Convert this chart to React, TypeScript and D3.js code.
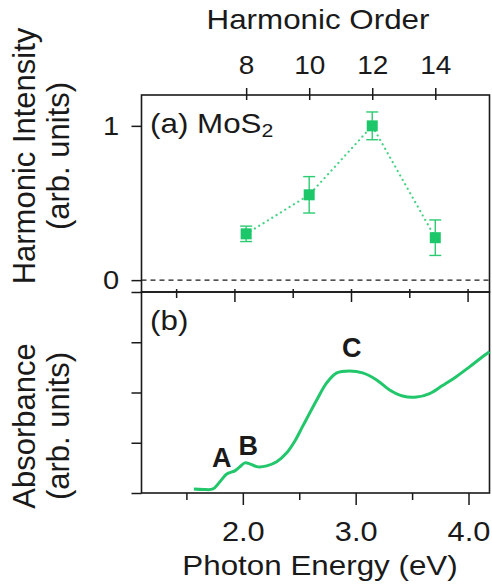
import React, { useEffect, useRef } from "react";
import * as d3 from "d3";

// panel (a): harmonic yield
const harmonicOrders = [8, 10, 12, 14];
const harmonicIntensity = [0.3, 0.553, 1.0, 0.275];
const harmonicError = [0.05, 0.118, 0.09, 0.115];

// panel (b): absorbance spectrum
const photonEnergy = [1.566, 1.65, 1.735, 1.788, 1.858, 1.903, 1.929, 1.973, 2.018, 2.062, 2.133, 2.212, 2.3, 2.389, 2.46, 2.531, 2.655, 2.743, 2.832, 2.947, 3.062, 3.186, 3.301, 3.416, 3.54, 3.655, 3.77, 3.894, 4.009, 4.124, 4.186];
const absorbance = [0.08, 0.07, 0.08, 0.2, 0.38, 0.42, 0.44, 0.52, 0.6, 0.58, 0.52, 0.54, 0.62, 0.8, 1.03, 1.33, 1.85, 2.19, 2.39, 2.43, 2.39, 2.25, 2.05, 1.93, 1.91, 1.98, 2.14, 2.32, 2.51, 2.71, 2.81];

const peakNames = ["A", "B", "C"];
const peakEnergy = [1.814, 2.049, 2.965];
const peakHeight = [0.52, 0.76, 2.71];

const energyMajor = [2.0, 3.0, 4.0];
const energyMinor = [1.5, 2.5, 3.5];
const intensityTicks = [0, 1];
const absorbanceTicks = [0, 1, 2, 3, 4];

const FONT = "'Liberation Sans', Arial, Helvetica, sans-serif";
const GREEN = "#22c66b";
const SX = 1.12; // text in the original looks a bit wide

const Chart = () => {
  const ref = useRef(null);

  useEffect(() => {
    const width = 492;
    const height = 587;
    const left = 141.5;
    const right = 489.5;
    const topA = 95;
    const mid = 292;
    const bottom = 493;

    const svg = d3.select(ref.current).attr("width", width).attr("height", height);
    svg.selectAll("*").remove();

    const xOrder = d3.scaleLinear().domain([4.68, 15.72]).range([left, right]);
    const xEa = d3.scaleLinear().domain([1.203, 4.188]).range([left, right]);
    const xEb = d3.scaleLinear().domain([1.102, 4.186]).range([left, right]);
    const yA = d3.scaleLinear().domain([-0.077, 1.2]).range([mid, topA]);
    const yB = d3.scaleLinear().domain([0, 4]).range([bottom, mid]);

    const ink = "#1a1a1a";

    // top axis: harmonic order
    const topAxis = svg.append("g").attr("transform", `translate(0,${topA})`)
      .call(d3.axisTop(xOrder).tickValues(harmonicOrders).tickSizeInner(7).tickSizeOuter(0).tickPadding(14));
    topAxis.select(".domain").remove();
    topAxis.selectAll(".tick line").attr("y1", 5).attr("stroke", ink).attr("stroke-width", 1.5);
    topAxis.selectAll(".tick text").attr("font-size", 25).attr("font-family", FONT).attr("fill", ink)
      .attr("transform", `scale(${SX},1)`);

    // panel (a) bottom ticks (energy)
    const aBottom = svg.append("g").attr("transform", `translate(0,${mid})`)
      .call(d3.axisBottom(xEa).tickValues(energyMajor.concat(energyMinor)).tickSizeOuter(0).tickFormat(() => ""));
    aBottom.select(".domain").remove();
    aBottom.selectAll(".tick line")
      .attr("y1", -3)
      .attr("y2", (d) => (energyMajor.includes(d) ? 10 : 6))
      .attr("stroke", ink).attr("stroke-width", 1.5);

    // panel (a) left axis
    const aLeft = svg.append("g").attr("transform", `translate(${left},0)`)
      .call(d3.axisLeft(yA).tickValues(intensityTicks).tickSizeInner(10).tickSizeOuter(0).tickPadding(10).tickFormat(d3.format("d")));
    aLeft.select(".domain").remove();
    aLeft.selectAll(".tick line").attr("stroke", ink).attr("stroke-width", 1.5);
    aLeft.selectAll(".tick text").attr("font-size", 26).attr("font-family", FONT).attr("fill", ink)
      .attr("transform", `scale(${SX},1)`);

    // panel (b) left axis
    const bLeft = svg.append("g").attr("transform", `translate(${left},0)`)
      .call(d3.axisLeft(yB).tickValues(absorbanceTicks).tickSizeInner(10).tickSizeOuter(0).tickFormat(() => ""));
    bLeft.select(".domain").remove();
    bLeft.selectAll(".tick line").attr("stroke", ink).attr("stroke-width", 1.5);

    // panel (b) bottom axis
    const bBottom = svg.append("g").attr("transform", `translate(0,${bottom})`)
      .call(d3.axisBottom(xEb).tickValues(energyMajor.concat(energyMinor)).tickSizeOuter(0).tickPadding(22)
        .tickFormat((d) => (energyMajor.includes(d) ? d3.format(".1f")(d) : "")));
    bBottom.select(".domain").remove();
    bBottom.selectAll(".tick line")
      .attr("y2", (d) => (energyMajor.includes(d) ? 12 : 7))
      .attr("stroke", ink).attr("stroke-width", 1.5);
    bBottom.selectAll(".tick text").attr("font-size", 27.5).attr("font-family", FONT).attr("fill", ink)
      .attr("transform", `scale(${SX},1)`);

    // frames
    svg.append("rect").attr("x", left).attr("y", topA).attr("width", right - left).attr("height", mid - topA)
      .attr("fill", "none").attr("stroke", ink).attr("stroke-width", 1.6);
    svg.append("rect").attr("x", left).attr("y", mid).attr("width", right - left).attr("height", bottom - mid)
      .attr("fill", "none").attr("stroke", ink).attr("stroke-width", 1.6);

    // zero line
    svg.append("line").attr("x1", left).attr("x2", right).attr("y1", yA(0)).attr("y2", yA(0))
      .attr("stroke", ink).attr("stroke-width", 1.3).attr("stroke-dasharray", "5,4");

    // panel (a) data
    const pts = harmonicOrders.map((o, i) => ({ o, v: harmonicIntensity[i], e: harmonicError[i] }));
    svg.append("path").datum(pts)
      .attr("d", d3.line().x((d) => xOrder(d.o)).y((d) => yA(d.v)))
      .attr("fill", "none").attr("stroke", "#48d286").attr("stroke-width", 2.2)
      .attr("stroke-dasharray", "0.1,5").attr("stroke-linecap", "round");

    const err = svg.append("g").attr("stroke", "#2ccb72").attr("stroke-width", 1.4);
    err.selectAll(".bar").data(pts).join("line").attr("class", "bar")
      .attr("x1", (d) => xOrder(d.o)).attr("x2", (d) => xOrder(d.o))
      .attr("y1", (d) => yA(d.v - d.e)).attr("y2", (d) => yA(d.v + d.e));
    err.selectAll(".capTop").data(pts).join("line").attr("class", "capTop")
      .attr("x1", (d) => xOrder(d.o) - 6).attr("x2", (d) => xOrder(d.o) + 6)
      .attr("y1", (d) => yA(d.v + d.e)).attr("y2", (d) => yA(d.v + d.e));
    err.selectAll(".capBot").data(pts).join("line").attr("class", "capBot")
      .attr("x1", (d) => xOrder(d.o) - 6).attr("x2", (d) => xOrder(d.o) + 6)
      .attr("y1", (d) => yA(d.v - d.e)).attr("y2", (d) => yA(d.v - d.e));

    svg.selectAll(".marker").data(pts).join("rect").attr("class", "marker")
      .attr("x", (d) => xOrder(d.o) - 5.5).attr("y", (d) => yA(d.v) - 5.5)
      .attr("width", 11).attr("height", 11).attr("fill", "#1cc76a");

    // panel (b) curve
    const spec = photonEnergy.map((e, i) => ({ e, a: absorbance[i] }));
    svg.append("path").datum(spec)
      .attr("d", d3.line().x((d) => xEb(d.e)).y((d) => yB(d.a)).curve(d3.curveCatmullRom.alpha(0.5)))
      .attr("fill", "none").attr("stroke", GREEN).attr("stroke-width", 3);

    svg.selectAll(".peak").data(peakNames).join("text").attr("class", "peak")
      .attr("x", (d, i) => xEb(peakEnergy[i])).attr("y", (d, i) => yB(peakHeight[i]))
      .attr("text-anchor", "middle").attr("font-size", 27).attr("font-weight", "bold")
      .attr("font-family", FONT).attr("fill", ink).text((d) => d);

    // panel labels
    const lab = svg.append("text").attr("transform", `translate(150,133) scale(${SX},1)`).attr("font-size", 28)
      .attr("font-family", FONT).attr("fill", ink);
    lab.append("tspan").text("(a) MoS");
    lab.append("tspan").attr("font-size", 19).attr("dy", 4).text("2");
    svg.append("text").attr("transform", `translate(150,330) scale(${SX},1)`).attr("font-size", 28)
      .attr("font-family", FONT).attr("fill", ink).text("(b)");

    // axis titles
    svg.append("text").attr("transform", `translate(318,29) scale(${SX},1)`).attr("text-anchor", "middle").attr("font-size", 28)
      .attr("font-family", FONT).attr("fill", ink).text("Harmonic Order");
    svg.append("text").attr("transform", `translate(320,575) scale(${SX},1)`).attr("text-anchor", "middle").attr("font-size", 28)
      .attr("font-family", FONT).attr("fill", ink).text("Photon Energy (eV)");

    const yTitle = (lines, cy) => {
      lines.forEach((t, i) => {
        svg.append("text").attr("transform", `translate(${i === 0 ? 35 : 69},${cy}) rotate(-90)`)
          .attr("text-anchor", "middle").attr("font-size", 31).attr("font-family", FONT)
          .attr("fill", ink).text(t);
      });
    };
    yTitle(["Harmonic Intensity", "(arb. units)"], 156);
    yTitle(["Absorbance", "(arb. units)"], 426);
  }, []);

  return <svg ref={ref} style={{ position: "fixed", left: 0, top: 0, background: "#fff" }}></svg>;
};

export default function App() {
  return <Chart />;
}
